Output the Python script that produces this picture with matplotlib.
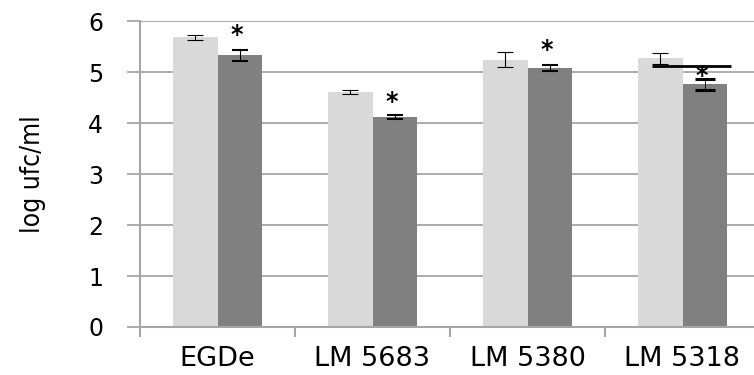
import matplotlib.pyplot as plt
import numpy as np

# datos
cepas = ["EGDe", "LM 5683", "LM 5380", "LM 5318"]
control = [5.69, 4.61, 5.25, 5.27]
control_err = [0.05, 0.035, 0.14, 0.11]
tratado = [5.33, 4.12, 5.08, 4.76]
tratado_err = [0.11, 0.04, 0.055, 0.10]
altura_asterisco = [5.74, 4.41, 5.43, 4.92]
linea_y = 5.13
linea_x = [2.80, 3.31]

gris_claro = "#d9d9d9"
gris_oscuro = "#808080"
gris_eje = "#a6a6a6"

fig = plt.figure(figsize=(7.54, 3.75), dpi=100)
ax = fig.add_axes([140 / 754, 48 / 375, 620 / 754, 305.7 / 375])

x = np.arange(len(cepas))
ancho = 0.287

ax.bar(x - ancho / 2, control, ancho, color=gris_claro, zorder=2)
ax.bar(x + ancho / 2, tratado, ancho, color=gris_oscuro, zorder=2)

ax.errorbar(x - ancho / 2, control, yerr=control_err, fmt="none",
            ecolor="black", elinewidth=0.8, capsize=5.5, capthick=0.8, zorder=3)
ax.errorbar(x[:3] + ancho / 2, tratado[:3], yerr=tratado_err[:3], fmt="none",
            ecolor="black", elinewidth=0.8, capsize=5.5, capthick=1.5, zorder=3)
ax.errorbar(x[3:] + ancho / 2, tratado[3:], yerr=tratado_err[3:], fmt="none",
            ecolor="black", elinewidth=0.6, capsize=7, capthick=2.2, zorder=3)

for xi, yi in zip(x + ancho / 2, altura_asterisco):
    ax.text(xi - 0.02, yi, "*", ha="center", va="center", fontsize=17,
            fontweight="bold", family="DejaVu Sans", zorder=4)

ax.hlines(linea_y, linea_x[0], linea_x[1], color="black", linewidth=2, zorder=4)

ax.set_xlim(-0.5, 3.5)
ax.set_ylim(0, 6)
ax.set_yticks(range(0, 7))
ax.yaxis.grid(True, color=gris_eje, linewidth=1.3, zorder=0)
ax.tick_params(axis="y", length=9.5, width=1.3, color=gris_eje, pad=17,
               labelsize=17)

ax.set_xticks(x)
ax.set_xticklabels(cepas, fontsize=19.5)
ax.set_xticks(np.arange(-0.5, 4, 1), minor=True)
ax.tick_params(axis="x", which="major", length=0, pad=14)
ax.tick_params(axis="x", which="minor", length=7, width=1.5, color=gris_eje)

for s in ["top", "right"]:
    ax.spines[s].set_visible(False)
ax.spines["left"].set_color(gris_eje)
ax.spines["left"].set_linewidth(1.5)
ax.spines["bottom"].set_color(gris_eje)
ax.spines["bottom"].set_linewidth(1.5)

ax.set_ylabel("log ufc/ml", fontsize=19, family="DejaVu Sans",
              fontstretch="condensed", labelpad=30)

fig.savefig("out.png", dpi=100)
